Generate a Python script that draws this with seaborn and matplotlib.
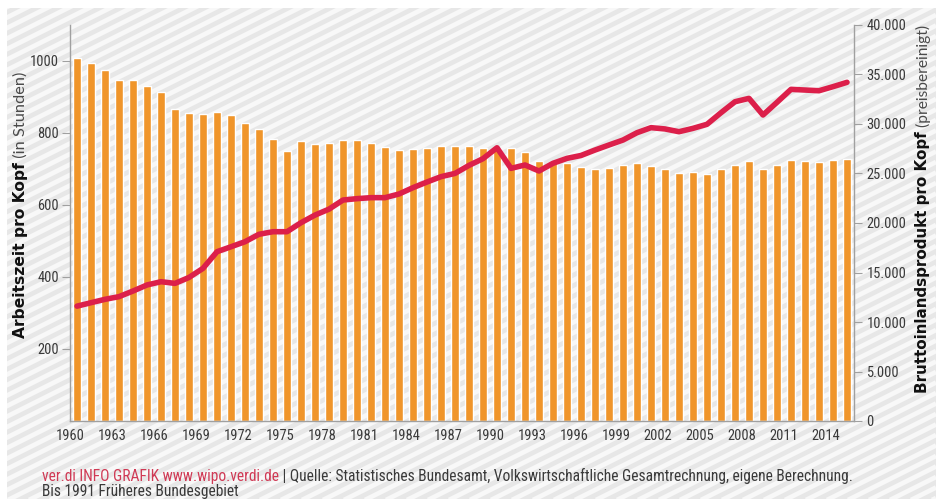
import numpy as np
import pandas as pd
import matplotlib
matplotlib.use("Agg")
import matplotlib.pyplot as plt
from matplotlib import font_manager as fm
from matplotlib.collections import LineCollection
from matplotlib.patches import Rectangle
import seaborn as sns

# ---------------- data ----------------
years = list(range(1960, 2016))
hours = [1008, 994, 974, 946, 946, 931, 914, 866, 856, 854,
         858, 851, 828, 812, 784, 749, 777, 769, 771, 780,
         781, 772, 761, 752, 756, 759, 764, 764, 764, 757,
         757, 757, 746, 723, 716, 718, 706, 701, 704, 711,
         718, 708, 699, 688, 691, 686, 699, 711, 721, 701,
         711, 725, 721, 719, 725, 728]
gdp = [11600, 11950, 12290, 12560, 13130, 13740, 14070, 13900, 14500, 15420,
       17100, 17600, 18110, 18860, 19120, 19120, 20030, 20800, 21400, 22320,
       22460, 22560, 22560, 22930, 23570, 24140, 24680, 25010, 25820, 26500,
       27600, 25520, 25860, 25250, 26030, 26530, 26820, 27370, 27880, 28380,
       29120, 29630, 29500, 29220, 29560, 29970, 31140, 32250, 32590, 30910,
       32190, 33500, 33430, 33360, 33770, 34210]
left_ticks = [200, 400, 600, 800, 1000]
right_ticks = [0, 5000, 10000, 15000, 20000, 25000, 30000, 35000, 40000]
xtick_years = years[::3]

left_label_bold = "Arbeitszeit pro Kopf"
left_label_light = " (in Stunden)"
right_label_bold = "Bruttoinlandsprodukt pro Kopf"
right_label_light = " (preisbereinigt)"
footer_red = "ver.di INFO GRAFIK www.wipo.verdi.de"
footer_rest = " | Quelle: Statistisches Bundesamt, Volkswirtschaftliche Gesamtrechnung, eigene Berechnung."
footer_line2 = "Bis 1991 Früheres Bundesgebiet"

# ---------------- style ----------------
BAR = "#f0952a"
LINE = "#dc1f4a"
AXC = "#a0a0a0"
TXT = "#3a3a3a"
RED_TXT = "#d03a55"

sns.set_theme(style="white")
names = {f.name for f in fm.fontManager.ttflist}
if "Liberation Sans Narrow" in names:
    NARROW, scale = "Liberation Sans Narrow", 1.0
elif "Roboto Condensed" in names:
    NARROW, scale = "Roboto Condensed", 0.95
else:
    NARROW, scale = "Liberation Sans", 0.84
LIGHT = "Lato" if "Lato" in names else "DejaVu Sans"
plt.rcParams["font.family"] = [NARROW, "DejaVu Sans"]

W, H = 936, 499
fig = plt.figure(figsize=(W / 100, H / 100), dpi=100)
fig.patch.set_facecolor("white")

# background with diagonal stripes
bg = fig.add_axes([0, 0, 1, 1], zorder=-1)
bg.set_xlim(0, W)
bg.set_ylim(H, 0)
bg.axis("off")
rect = Rectangle((7, 8), W - 7, H - 8, facecolor="#e7e7e7", edgecolor="none")
bg.add_patch(rect)
segs = []
for c in np.arange(0, H + 0.5 * W + 20, 10.5):
    segs.append([(0, c), (W, c - 0.5 * W)])
lc = LineCollection(segs, colors="#f8f8f8", linewidths=3.4)
bg.add_collection(lc)
lc.set_clip_path(rect)

# main axes
x0, x1, ytop, ybot = 70, 854, 25, 421
ax = fig.add_axes([x0 / W, (H - ybot) / H, (x1 - x0) / W, (ybot - ytop) / H], zorder=1)
ax.patch.set_visible(False)

df = pd.DataFrame({"year": [str(y) for y in years], "hours": hours,
                   "pos": np.arange(len(years)), "gdp": gdp})
sns.barplot(data=df, x="year", y="hours", color=BAR, saturation=1, width=0.64, ax=ax)
ax.set_xlim(-0.5, len(years) - 0.5)
ax.set_ylim(0, 1100)
ax.set_xlabel("")
ax.set_ylabel("")
ax.set_yticks(left_ticks)
ax.set_yticklabels([str(v) for v in left_ticks])
idx = [years.index(y) for y in xtick_years]
ax.set_xticks(np.array(idx) - 0.5)
ax.set_xticklabels([str(y) for y in xtick_years])
for s in ["top", "right"]:
    ax.spines[s].set_visible(False)
for s in ["left", "bottom"]:
    ax.spines[s].set_color(AXC)
    ax.spines[s].set_linewidth(1.0)
ax.tick_params(axis="y", length=6, width=0.8, color=AXC, labelcolor=TXT,
               labelsize=11 * scale, pad=2)
ax.tick_params(axis="x", direction="inout", length=6, width=0.8, color=AXC,
               labelcolor=TXT, labelsize=11 * scale, pad=3)

ax2 = ax.twinx()
ax2.set_zorder(2)
ax2.patch.set_visible(False)
sns.lineplot(data=df, x="pos", y="gdp", color=LINE, linewidth=4.0, ax=ax2,
             solid_capstyle="round", solid_joinstyle="round")
ax2.set_xlim(-0.5, len(years) - 0.5)
ax2.set_ylim(0, 40000)
ax2.set_xlabel("")
ax2.set_ylabel("")
ax2.set_yticks(right_ticks)
ax2.set_yticklabels([f"{v:,}".replace(",", ".") for v in right_ticks])
for s in ["top", "left", "bottom"]:
    ax2.spines[s].set_visible(False)
ax2.spines["right"].set_color(AXC)
ax2.spines["right"].set_linewidth(1.0)
ax2.tick_params(axis="y", length=6, width=0.8, color=AXC, labelcolor=TXT,
                labelsize=11 * scale, pad=3)

# ---------- y labels (mixed weight, rotated) ----------
fig.canvas.draw()
r = fig.canvas.get_renderer()


def rot_label(xpx, ybottom_px, bold, light, bsize, lsize):
    t1 = fig.text(xpx / W, (H - ybottom_px) / H, bold, rotation=90,
                  rotation_mode="anchor", ha="left", va="center",
                  fontsize=bsize, fontweight="bold", color="#111111",
                  family=["DejaVu Sans"])
    bb = t1.get_window_extent(r)
    t2 = fig.text(xpx / W, bb.y1 / H, light, rotation=90,
                  rotation_mode="anchor", ha="left", va="center",
                  fontsize=lsize, color="#4a4a4a", family=[LIGHT, "DejaVu Sans"])
    return t1, t2


rot_label(21, 338, left_label_bold, left_label_light, 11.2, 11.8)
rot_label(923, 393, right_label_bold, right_label_light, 10.9, 11.2)

# ---------- footer ----------
fs = 11.2
f1 = fig.text(42 / W, (H - 481) / H, footer_red, color=RED_TXT,
              fontsize=fs, va="baseline", ha="left")
bb = f1.get_window_extent(r)
fig.text(bb.x1 / W, (H - 481) / H, footer_rest, color=TXT,
         fontsize=fs, va="baseline", ha="left")
fig.text(42 / W, (H - 496) / H, footer_line2, color=TXT,
         fontsize=fs, va="baseline", ha="left")

fig.savefig("out.png", dpi=100, facecolor="white")
